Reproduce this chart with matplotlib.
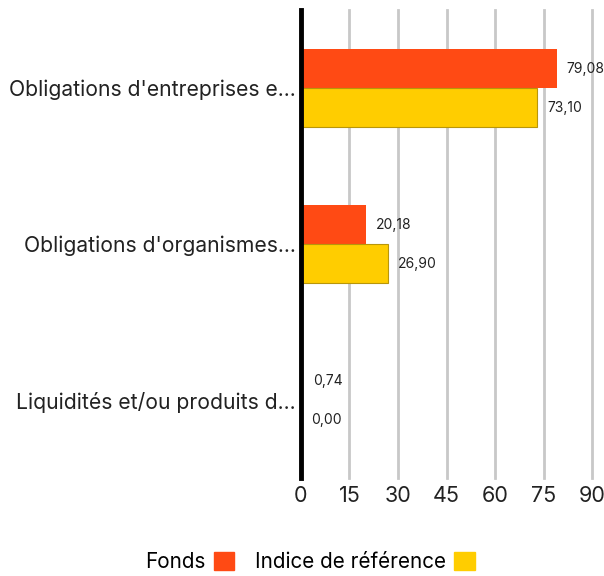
import numpy as np
import matplotlib
matplotlib.use("Agg")
import matplotlib.pyplot as plt
from matplotlib.patches import Patch

plt.rcParams['font.family'] = ['Inter', 'DejaVu Sans']

categories = ["Obligations d'entreprises e...",
              "Obligations d'organismes...",
              "Liquidités et/ou produits d..."]
fonds = [79.08, 20.18, 0.74]
indice = [73.10, 26.90, 0.00]
xticks = [0, 15, 30, 45, 60, 75, 90]

c_fonds = '#FF4A14'
c_indice = '#FFCD00'

fig = plt.figure(figsize=(6.04, 5.76), dpi=100)
ax = fig.add_axes([0.4983, 0.170, 0.482, 0.8126])

y = np.arange(len(categories))
h = 0.25
ax.barh(y - h / 2, fonds, height=h, color=c_fonds, zorder=3)
ax.barh(y + h / 2, indice, height=h, color=c_indice, edgecolor='#B8960A',
        linewidth=0.8, zorder=3)

def lab(v):
    return f"{v:.2f}".replace('.', ',')

for yi, v in zip(y, fonds):
    ax.annotate(lab(v), (v, yi - h / 2), xytext=(7, 0), textcoords='offset points',
                va='center', ha='left', fontsize=10, color='#222222')
for yi, v in zip(y, indice):
    ax.annotate(lab(v), (v, yi + h / 2), xytext=(7, 0), textcoords='offset points',
                va='center', ha='left', fontsize=10, color='#222222')

ax.set_xlim(0, 90)
ax.set_ylim(2.5, -0.5)
ax.set_xticks(xticks)
ax.set_xticklabels([str(t) for t in xticks], fontsize=15.5, color='#222222')
ax.set_yticks(y)
ax.set_yticklabels(categories, fontsize=15.2, color='#222222')
ax.tick_params(axis='both', length=0)
ax.tick_params(axis='x', pad=6)
ax.tick_params(axis='y', pad=4)

ax.xaxis.grid(True, color='#C8C8C8', linewidth=2, zorder=0)
for gl in ax.get_xgridlines():
    gl.set_clip_on(False)
for s in ['top', 'right', 'bottom']:
    ax.spines[s].set_visible(False)
ax.spines['left'].set_linewidth(3.5)
ax.spines['left'].set_color('black')
ax.spines['left'].set_zorder(5)

handles = [Patch(color=c_fonds, label='Fonds'),
           Patch(color=c_indice, label='Indice de référence')]
fig.legend(handles=handles, loc='center', bbox_to_anchor=(310 / 604, 1 - 562 / 576),
           ncol=2, frameon=False, markerfirst=False, fontsize=14.9,
           handlelength=1.0, handleheight=1.0, columnspacing=1.0, handletextpad=0.4)

fig.savefig('out.png', dpi=100)
